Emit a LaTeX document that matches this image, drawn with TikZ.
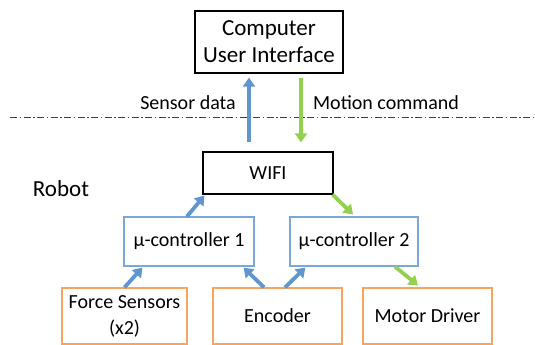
\documentclass[tikz,border=0pt]{standalone}
\usepackage{fontspec}
\setmainfont{Carlito}
\usepackage{tikz}
\usetikzlibrary{arrows.meta}
\definecolor{bluearr}{HTML}{5F96CE}
\definecolor{greenarr}{HTML}{92D050}
\definecolor{orangebox}{HTML}{F8A45E}
\definecolor{bluebox}{HTML}{7BA7D8}
\tikzset{
  box/.style={draw, line width=1.2pt, inner sep=0pt, align=center, font=\fontsize{20}{26}\selectfont},
  up/.style={draw=bluearr, line width=3.8pt, -{Triangle[length=9pt,width=12pt]}},
  down/.style={draw=greenarr, line width=3.8pt, -{Triangle[length=9pt,width=12pt]}},
  lbl/.style={font=\fontsize{20}{24}\selectfont}
}
\begin{document}
\begin{tikzpicture}[x=1pt,y=-1pt]
  \useasboundingbox (0,0) rectangle (535,345);
  \node[box, minimum width=148pt, minimum height=62pt, font=\fontsize{23}{27}\selectfont] (comp) at (269,42) {Computer\\User Interface};
  \node[box, minimum width=130pt, minimum height=42pt] (wifi) at (268,173) {WIFI};
  \node[box, draw=bluebox, minimum width=130pt, minimum height=49pt] (mua) at (189,241.5) {µ-controller 1};
  \node[box, draw=bluebox, minimum width=128pt, minimum height=49pt] (mub) at (354,241.5) {µ-controller 2};
  \node[box, draw=orangebox, minimum width=125pt, minimum height=56pt] (force) at (124.5,316) {Force Sensors\\(x2)};
  \node[box, draw=orangebox, minimum width=129pt, minimum height=56pt] (enc) at (277.5,316) {Encoder};
  \node[box, draw=orangebox, minimum width=129pt, minimum height=56pt] (motor) at (427.5,316) {Motor Driver};
  \node[lbl] (sensor) at (188,103) {Sensor data};
  \node[lbl] (motion) at (386,103) {Motion command};
  \node[lbl, font=\fontsize{23}{27}\selectfont] (robot) at (61,189) {Robot};
  \coordinate (sepL) at (10,117);
  \coordinate (sepR) at (535,117);
  \draw[line width=1pt, black!75, dash pattern=on 7pt off 2.5pt on 1.5pt off 2.5pt] (sepL) -- (sepR);
  \draw[up] ([xshift=-19pt,yshift=9pt]wifi.north) -- ([xshift=-20pt,yshift=-4pt]comp.south);
  \draw[down] ([xshift=32pt,yshift=-4pt]comp.south) -- ([xshift=33pt,yshift=9pt]wifi.north);
  \draw[up] ([xshift=-2pt]mua.north) -- ([xshift=2pt,yshift=-1pt]wifi.south west);
  \draw[down] ([xshift=-1pt]wifi.south east) -- ([xshift=-1pt,yshift=2pt]mub.north);
  \draw[up] (force.north) -- ([xshift=19pt,yshift=-1pt]mua.south west);
  \draw[up] ([xshift=-13.5pt]enc.north) -- ([xshift=-11pt,yshift=-1pt]mua.south east);
  \draw[up] ([xshift=7.5pt]enc.north) -- ([xshift=16pt,yshift=-1pt]mub.south west);
  \draw[down] ([xshift=41pt]mub.south) -- ([xshift=-9.5pt,yshift=2pt]motor.north);
\end{tikzpicture}
\end{document}
